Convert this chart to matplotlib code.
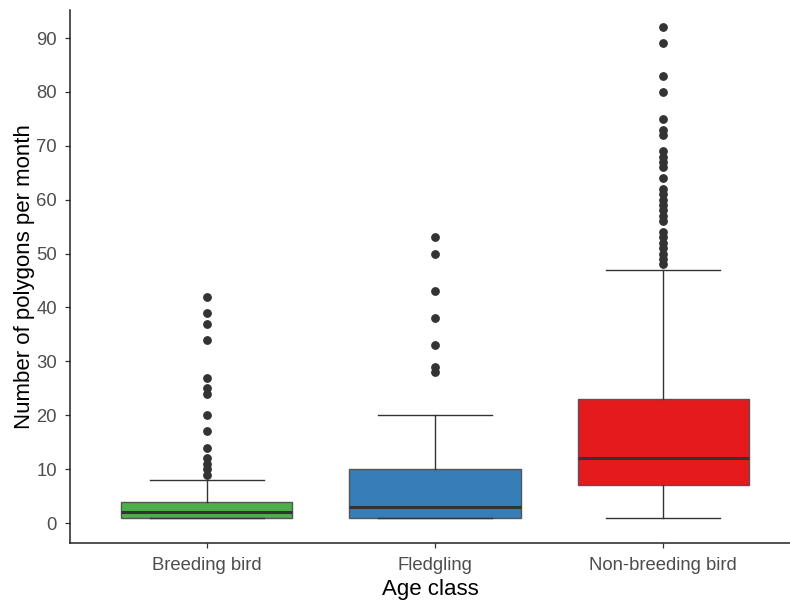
import matplotlib
matplotlib.use("Agg")
import matplotlib.pyplot as plt

plt.rcParams['font.family'] = ['Liberation Sans', 'DejaVu Sans']

# Box summary per age class
categories = ["Breeding bird", "Fledgling", "Non-breeding bird"]
colors = ["#4DAF4A", "#377EB8", "#E41A1C"]
q1 = [1, 1, 7]
median = [2, 3, 12]
q3 = [4, 10, 23]
whisker_lo = [1, 1, 1]
whisker_hi = [8, 20, 47]
outliers = [
    [9, 10, 11, 12, 14, 17, 20, 24, 25, 27, 34, 37, 39, 42],
    [28, 29, 33, 38, 43, 50, 53],
    [48, 49, 50, 51, 52, 53, 54, 56, 57, 58, 59, 60, 61, 62, 64,
     66, 67, 68, 69, 72, 73, 75, 80, 83, 89, 92],
]

stats = []
for i, name in enumerate(categories):
    stats.append(dict(label=name, med=median[i], q1=q1[i], q3=q3[i],
                      whislo=whisker_lo[i], whishi=whisker_hi[i],
                      fliers=outliers[i]))

fig = plt.figure(figsize=(7.9, 6.01), dpi=100)
ax = fig.add_axes([70 / 790, 1 - 543 / 601, 1 - 70 / 790, (543 - 10) / 601])

edge = "#333333"
bp = ax.bxp(stats, positions=[1, 2, 3], widths=0.75, patch_artist=True,
            capwidths=0.5,
            boxprops=dict(edgecolor="#555555", linewidth=1.0),
            medianprops=dict(color=edge, linewidth=2.2),
            whiskerprops=dict(color=edge, linewidth=1.0),
            capprops=dict(color=edge, linewidth=1.0),
            flierprops=dict(marker="o", markerfacecolor=edge,
                            markeredgecolor=edge, markersize=5.3,
                            linestyle="none"))
for patch, c in zip(bp["boxes"], colors):
    patch.set_facecolor(c)

ax.set_xlim(0.4, 3.556)
ax.set_ylim(-3.7, 95.2)
ax.set_yticks(range(0, 100, 10))
ax.set_xticks([1, 2, 3])
ax.set_xticklabels(categories)

for s in ["top", "right"]:
    ax.spines[s].set_visible(False)
for s in ["left", "bottom"]:
    ax.spines[s].set_color("#222222")
    ax.spines[s].set_linewidth(1.1)

ax.tick_params(axis="both", colors="#333333", labelcolor="#4D4D4D",
               labelsize=13.3, length=3.5, width=0.9)
ax.tick_params(axis="x", pad=6.5)
ax.tick_params(axis="y", pad=6)
ax.set_xlabel("Age class", fontsize=16, color="black", labelpad=3.5)
ax.set_ylabel("Number of polygons per month", fontsize=16, color="black",
              labelpad=1)

fig.savefig("out.png", dpi=100)
